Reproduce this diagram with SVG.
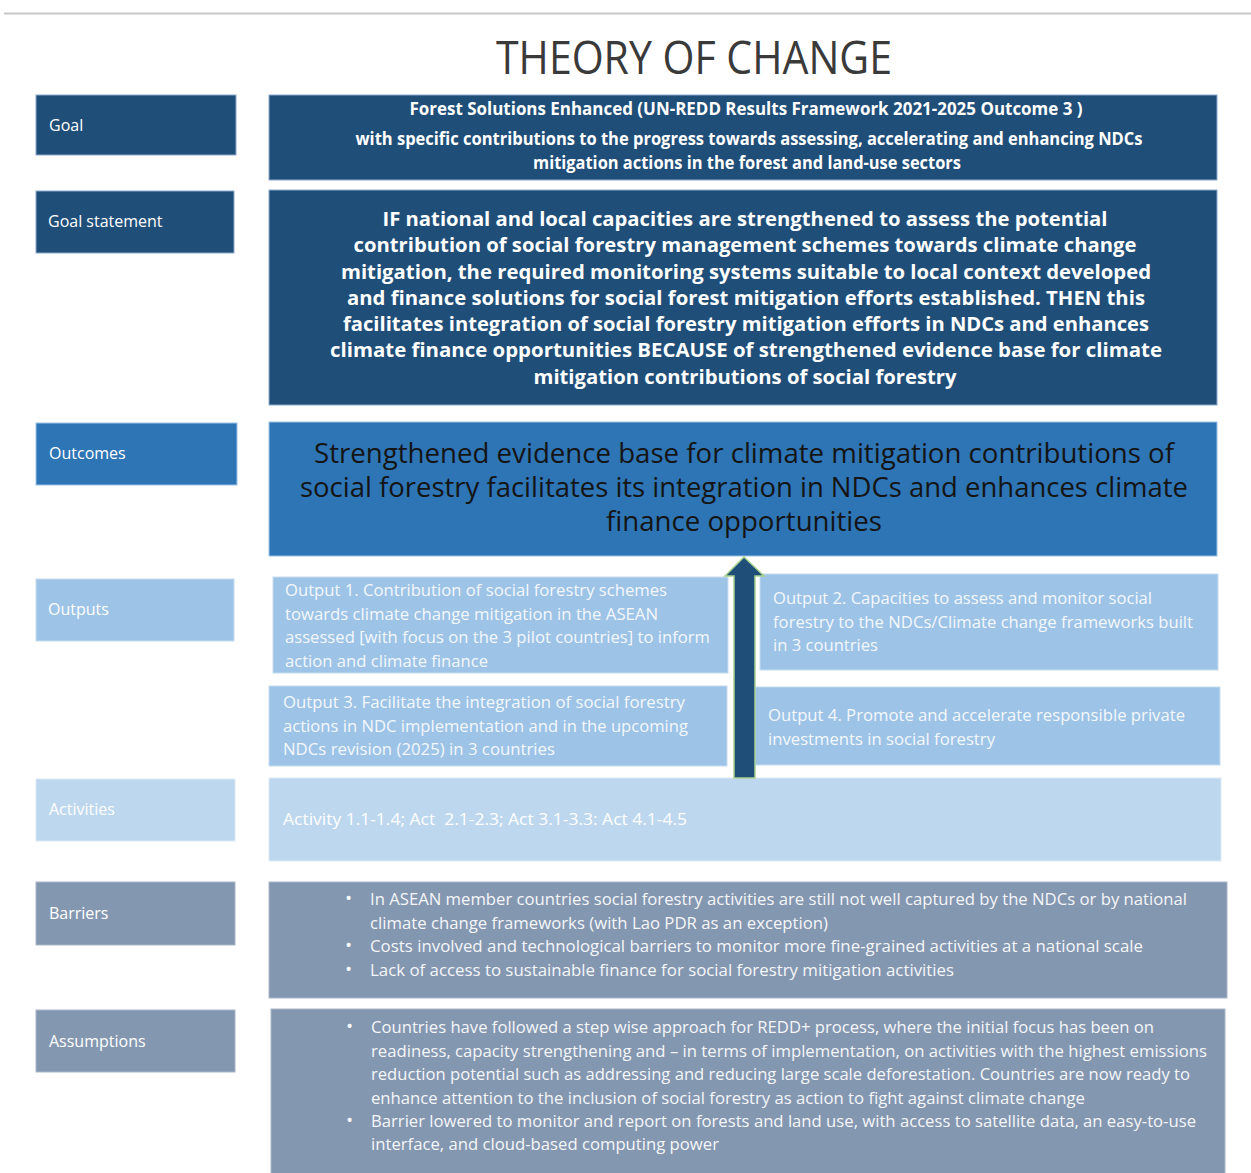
<svg xmlns="http://www.w3.org/2000/svg" width="1251" height="1173" viewBox="0 0 1251 1173">
<style>
  .t { font-family: "Open Sans", "Liberation Sans", sans-serif; }
  .lbl { font-family: "Open Sans", "Liberation Sans", sans-serif; font-size: 16px; fill: #ffffff; }
  .dark { fill: #1f4e79; stroke: #8faacc; stroke-width: 1; }
  .mid { fill: #2e75b6; stroke: #9dc3e6; stroke-width: 1; }
  .out { fill: #9dc3e6; stroke: #c5dcf0; stroke-width: 1; }
  .act { fill: #bdd7ee; stroke: #dbe9f6; stroke-width: 1; }
  .bar { fill: #8497b0; stroke: #a9b7ca; stroke-width: 1; }
  .w { fill: #ffffff; }
  .ow { fill: #f4f8fc; font-size: 15.5px; }
  .bw { fill: #f4f6f9; font-size: 15.5px; }
  .bul { font-size: 19px; }
</style>
<rect width="1251" height="1173" fill="#ffffff"/>
<line x1="4" y1="13.5" x2="1251" y2="13.5" stroke="#c8c8c8" stroke-width="2"/>
<text class="t" x="694" y="74" text-anchor="middle" font-size="46" fill="#3a3a3a" textLength="396" lengthAdjust="spacingAndGlyphs">THEORY OF CHANGE</text>

<g id="label-goal"><rect class="dark" x="36" y="95" width="200" height="60"/><text class="lbl" x="49" y="131">Goal</text></g>
<g id="label-goal-statement"><rect class="dark" x="36" y="191" width="198" height="62"/><text class="lbl" x="48" y="227">Goal statement</text></g>
<g id="label-outcomes"><rect class="mid" x="36" y="423" width="201" height="62"/><text class="lbl" x="49" y="459">Outcomes</text></g>
<g id="label-outputs"><rect class="out" x="36" y="579" width="198" height="62"/><text class="lbl" x="48" y="615">Outputs</text></g>
<g id="label-activities"><rect class="act" x="36" y="779" width="199" height="62"/><text class="lbl" x="49" y="815">Activities</text></g>
<g id="label-barriers"><rect class="bar" x="36" y="882" width="199" height="63"/><text class="lbl" x="49" y="919">Barriers</text></g>
<g id="label-assumptions"><rect class="bar" x="36" y="1010" width="199" height="62"/><text class="lbl" x="49" y="1047">Assumptions</text></g>

<g id="goal">
  <rect class="dark" x="269" y="95" width="948" height="85"/>
  <g class="t w" font-size="17" font-weight="bold" text-anchor="middle">
    <text x="746" y="115" textLength="673" lengthAdjust="spacingAndGlyphs">Forest Solutions Enhanced (UN-REDD Results Framework 2021-2025 Outcome 3 )</text>
    <text x="749" y="145" textLength="787" lengthAdjust="spacingAndGlyphs">with specific contributions to the progress towards assessing, accelerating and enhancing NDCs</text>
    <text x="747" y="169" textLength="428" lengthAdjust="spacingAndGlyphs">mitigation actions in the forest and land-use sectors</text>
  </g>
</g>

<g id="goal-statement">
  <rect class="dark" x="269" y="190" width="948" height="215"/>
  <g class="t w" font-size="20" font-weight="bold" text-anchor="middle">
    <text x="745" y="226" textLength="725" lengthAdjust="spacingAndGlyphs">IF national and local capacities are strengthened to assess the potential</text>
    <text x="745" y="252" textLength="783" lengthAdjust="spacingAndGlyphs">contribution of social forestry management schemes towards climate change</text>
    <text x="746" y="279" textLength="810" lengthAdjust="spacingAndGlyphs">mitigation, the required monitoring systems suitable to local context developed</text>
    <text x="746" y="305" textLength="798" lengthAdjust="spacingAndGlyphs">and finance solutions for social forest mitigation efforts established. THEN this</text>
    <text x="746" y="331" textLength="806" lengthAdjust="spacingAndGlyphs">facilitates integration of social forestry mitigation efforts in NDCs and enhances</text>
    <text x="746" y="357" textLength="832" lengthAdjust="spacingAndGlyphs">climate finance opportunities BECAUSE of strengthened evidence base for climate</text>
    <text x="745" y="384" textLength="423" lengthAdjust="spacingAndGlyphs">mitigation contributions of social forestry</text>
  </g>
</g>

<g id="outcome">
  <rect class="mid" x="269" y="422" width="948" height="134"/>
  <g class="t" font-size="26.5" fill="#141414" text-anchor="middle">
    <text x="744" y="463" textLength="860" lengthAdjust="spacingAndGlyphs">Strengthened evidence base for climate mitigation contributions of</text>
    <text x="744" y="497" textLength="888" lengthAdjust="spacingAndGlyphs">social forestry facilitates its integration in NDCs and enhances climate</text>
    <text x="744" y="531" textLength="276" lengthAdjust="spacingAndGlyphs">finance opportunities</text>
  </g>
</g>

<g id="output-1">
  <rect class="out" x="273" y="577" width="455" height="96"/>
  <g class="t ow">
    <text x="285" y="596" textLength="382" lengthAdjust="spacingAndGlyphs">Output 1. Contribution of social forestry schemes</text>
    <text x="285" y="620" textLength="373" lengthAdjust="spacingAndGlyphs">towards climate change mitigation in the ASEAN</text>
    <text x="285" y="643" textLength="425" lengthAdjust="spacingAndGlyphs">assessed [with focus on the 3 pilot countries] to inform</text>
    <text x="285" y="667" textLength="203" lengthAdjust="spacingAndGlyphs">action and climate finance</text>
  </g>
</g>

<g id="output-2">
  <rect class="out" x="760" y="574" width="458" height="96"/>
  <g class="t ow">
    <text x="773" y="604" textLength="379" lengthAdjust="spacingAndGlyphs">Output 2. Capacities to assess and monitor social</text>
    <text x="773" y="628" textLength="420" lengthAdjust="spacingAndGlyphs">forestry to the NDCs/Climate change frameworks built</text>
    <text x="773" y="651" textLength="105" lengthAdjust="spacingAndGlyphs">in 3 countries</text>
  </g>
</g>

<g id="output-3">
  <rect class="out" x="269" y="686" width="458" height="80"/>
  <g class="t ow">
    <text x="283" y="708" textLength="402" lengthAdjust="spacingAndGlyphs">Output 3. Facilitate the integration of social forestry</text>
    <text x="283" y="732" textLength="405" lengthAdjust="spacingAndGlyphs">actions in NDC implementation and in the upcoming</text>
    <text x="283" y="755" textLength="272" lengthAdjust="spacingAndGlyphs">NDCs revision (2025) in 3 countries</text>
  </g>
</g>

<g id="output-4">
  <rect class="out" x="755" y="687" width="465" height="78"/>
  <g class="t ow">
    <text x="768" y="721" textLength="417" lengthAdjust="spacingAndGlyphs">Output 4. Promote and accelerate responsible private</text>
    <text x="768" y="745" textLength="227" lengthAdjust="spacingAndGlyphs">investments in social forestry</text>
  </g>
</g>

<g id="activities">
  <rect class="act" x="269" y="778" width="952" height="83"/>
  <text class="t" x="283" y="825" font-size="15.5" fill="#ffffff" textLength="404" lengthAdjust="spacingAndGlyphs" xml:space="preserve">Activity 1.1-1.4; Act  2.1-2.3; Act 3.1-3.3: Act 4.1-4.5</text>
</g>

<g id="barriers">
  <rect class="bar" x="269" y="882" width="958" height="116"/>
  <g class="t bw">
    <text class="bul" x="345" y="905">•</text>
    <text x="370" y="905" textLength="817" lengthAdjust="spacingAndGlyphs">In ASEAN member countries social forestry activities are still not well captured by the NDCs or by national</text>
    <text x="370" y="929" textLength="458" lengthAdjust="spacingAndGlyphs">climate change frameworks (with Lao PDR as an exception)</text>
    <text class="bul" x="345" y="952">•</text>
    <text x="370" y="952" textLength="773" lengthAdjust="spacingAndGlyphs">Costs involved and technological barriers to monitor more fine-grained activities at a national scale</text>
    <text class="bul" x="345" y="976">•</text>
    <text x="370" y="976" textLength="584" lengthAdjust="spacingAndGlyphs">Lack of access to sustainable finance for social forestry mitigation activities</text>
  </g>
</g>

<g id="assumptions">
  <rect class="bar" x="271" y="1009" width="954" height="170"/>
  <g class="t bw">
    <text class="bul" x="346" y="1033">•</text>
    <text x="371" y="1033" textLength="783" lengthAdjust="spacingAndGlyphs">Countries have followed a step wise approach for REDD+ process, where the initial focus has been on</text>
    <text x="371" y="1057" textLength="836" lengthAdjust="spacingAndGlyphs">readiness, capacity strengthening and – in terms of implementation, on activities with the highest emissions</text>
    <text x="371" y="1080" textLength="819" lengthAdjust="spacingAndGlyphs">reduction potential such as addressing and reducing large scale deforestation. Countries are now ready to</text>
    <text x="371" y="1104" textLength="714" lengthAdjust="spacingAndGlyphs">enhance attention to the inclusion of social forestry as action to fight against climate change</text>
    <text class="bul" x="346" y="1127">•</text>
    <text x="371" y="1127" textLength="825" lengthAdjust="spacingAndGlyphs">Barrier lowered to monitor and report on forests and land use, with access to satellite data, an easy-to-use</text>
    <text x="371" y="1150" textLength="348" lengthAdjust="spacingAndGlyphs">interface, and cloud-based computing power</text>
  </g>
</g>

<g id="connectors">
  <path d="M744,557 L764,576 L755,576 L755,778 L734,778 L734,576 L725,576 Z" fill="#1f4e79" stroke="#a9d18e" stroke-width="1.5" stroke-linejoin="miter"/>
</g>
</svg>
